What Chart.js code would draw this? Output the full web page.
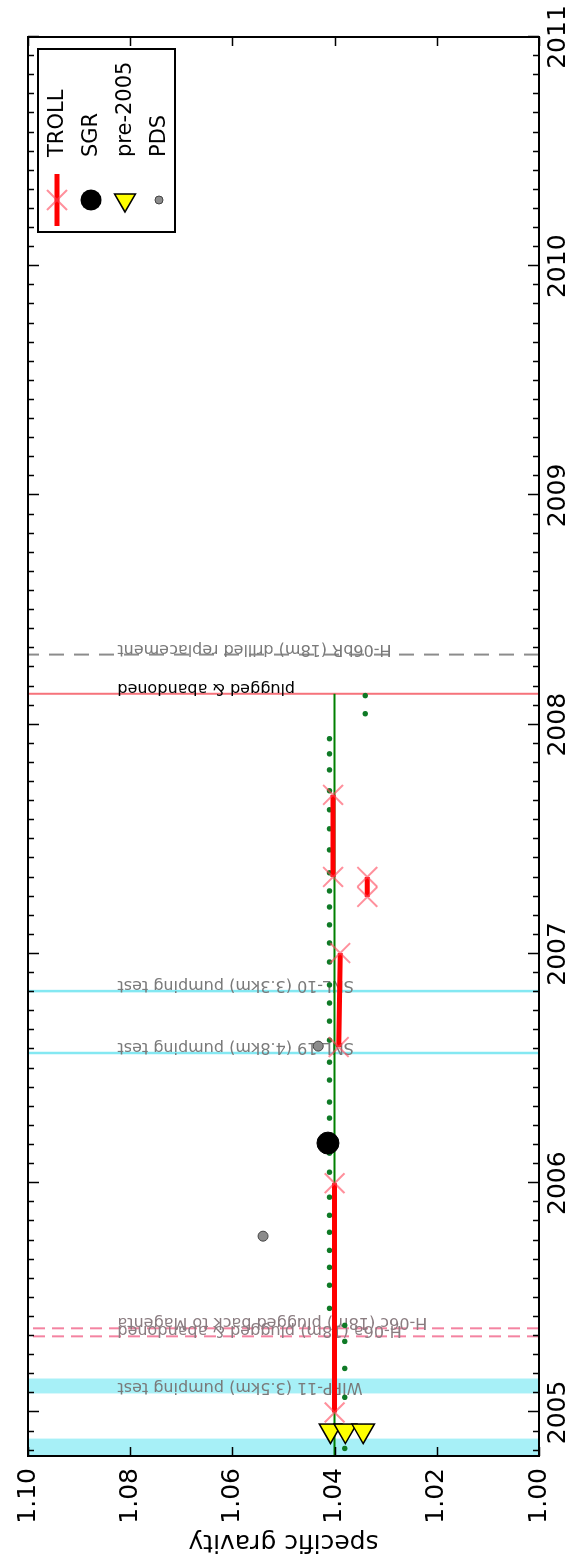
<!DOCTYPE html><html><head>
<title>specific gravity</title>
<style>
  html, body { margin: 0; padding: 0; background: #fff; overflow: hidden; }
  /* the plot is drawn lying on its side, like the source picture */
  #wrap { position: absolute; left: 0; top: 0; width: 1564px; height: 575px;
          transform-origin: 0 0; transform: translate(0, 1564px) rotate(-90deg); }
</style>
</head>
<body>
<div id="wrap"><canvas id="chart" width="1564" height="575"></canvas></div>
<script src="https://cdn.jsdelivr.net/npm/chart.js"></script>
<script>
Chart.defaults.font.family = "'DejaVu Sans', 'Bitstream Vera Sans', sans-serif";
Chart.defaults.color = '#000';

// decimal years and specific gravity
const trollYears = [2005.000, 2006.000, 2006.000, 2006.594, 2007.004, 2007.004, 2007.249, 2007.336, 2007.336, 2007.336, 2007.694];
const trollSG    = [1.0400,   1.0400,   null,     1.0392,   1.0389,   null,     1.0336,   1.0336,   null,     1.0403,   1.0403];
const sgrYears = [2006.175];
const sgrSG    = [1.0413];
const preYears = [2004.921, 2004.921, 2004.921];
const preSG    = [1.0408, 1.0379, 1.0344];
const pdsYears = [2005.769, 2006.598];
const pdsSG    = [1.0540, 1.0432];
const dotYears = [2004.843, 2005.066, 2005.192, 2005.310, 2005.380,
  2005.454, 2005.555, 2005.633, 2005.707, 2005.786, 2005.860, 2005.939, 2006.048, 2006.131, 2006.201,
  2006.284, 2006.354, 2006.450, 2006.528, 2006.624, 2006.707, 2006.786, 2006.865, 2006.965, 2007.048,
  2007.127, 2007.205, 2007.275, 2007.354, 2007.454, 2007.546, 2007.629, 2007.712, 2007.803, 2007.873,
  2007.939, 2008.048, 2008.127];
const dotSG = [1.038, 1.038, 1.038, 1.038, 1.038,
  1.041, 1.041, 1.041, 1.041, 1.041, 1.041, 1.041, 1.041, 1.041, 1.041,
  1.041, 1.041, 1.041, 1.041, 1.041, 1.041, 1.041, 1.041, 1.041, 1.041,
  1.041, 1.041, 1.041, 1.041, 1.041, 1.041, 1.041, 1.041, 1.041, 1.041,
  1.041, 1.034, 1.034];
const fitYears = [2004.75, 2008.135];
const fitSG    = [1.040, 1.040];

// events
const spanStarts = [2004.70, 2005.083];
const spanEnds   = [2004.886, 2005.148];
const spanLabels = ['', 'WIPP-11 (3.5km) pumping test'];
const testYears  = [2006.568, 2006.838];
const testLabels = ['SNL-19 (4.8km) pumping test', 'SNL-10 (3.3km) pumping test'];
const plugYears  = [2005.332, 2005.367];
const plugLabels = ['H-06a (18m) plugged & abandoned', 'H-06c (18m) plugged back to Magenta'];
const abandonYears  = [2008.135];
const abandonLabels = ['plugged & abandoned'];
const replaceYears  = [2008.306];
const replaceLabels = ['H-06bR (18m) drilled replacement'];
const labelTopSG = 1.0825;

const sgTicks = [1.00, 1.02, 1.04, 1.06, 1.08, 1.10];

function pts(xs, ys) { return xs.map((x, i) => ({x: x, y: ys[i]})); }

const xColor = 'rgba(255, 70, 90, 0.6)';

const events = {
  id: 'events',
  beforeDatasetsDraw(chart) {
    const {ctx, chartArea: a, scales: {x, y}} = chart;
    ctx.save();
    ctx.beginPath(); ctx.rect(a.left, a.top, a.right - a.left, a.bottom - a.top); ctx.clip();

    ctx.fillStyle = 'rgba(120, 232, 242, 0.65)';
    spanStarts.forEach((s, i) => {
      const x0 = x.getPixelForValue(s), x1 = x.getPixelForValue(spanEnds[i]);
      ctx.fillRect(x0, a.top, x1 - x0, a.bottom - a.top);
    });

    function vline(year, color, width, dash) {
      const px = x.getPixelForValue(year);
      ctx.save();
      ctx.strokeStyle = color; ctx.lineWidth = width; ctx.setLineDash(dash);
      ctx.beginPath(); ctx.moveTo(px, a.bottom); ctx.lineTo(px, a.top); ctx.stroke();
      ctx.restore();
    }
    function label(year, text, color) {
      if (!text) return;
      const px = x.getPixelForValue(year) + 10, py = y.getPixelForValue(labelTopSG);
      ctx.save();
      ctx.translate(px, py); ctx.rotate(-Math.PI / 2);
      ctx.textAlign = 'right'; ctx.textBaseline = 'alphabetic';
      ctx.font = "16px 'DejaVu Sans'"; ctx.fillStyle = color;
      ctx.fillText(text, 0, 0);
      ctx.restore();
    }
    testYears.forEach(t => vline(t, 'rgba(110, 228, 240, 0.85)', 2.5, []));
    plugYears.forEach(t => vline(t, 'rgba(240, 90, 130, 0.75)', 2, [12, 7]));
    abandonYears.forEach(t => vline(t, 'rgba(245, 90, 100, 0.85)', 2, []));
    replaceYears.forEach(t => vline(t, '#8c8c8c', 2, [15, 10]));

    spanStarts.forEach((s, i) => label(s, spanLabels[i], '#7a7a7a'));
    testYears.forEach((t, i) => label(t, testLabels[i], '#7a7a7a'));
    plugYears.forEach((t, i) => label(t, plugLabels[i], '#8a7c80'));
    abandonYears.forEach((t, i) => label(t, abandonLabels[i], '#000'));
    replaceYears.forEach((t, i) => label(t, replaceLabels[i], '#7a7a7a'));
    ctx.restore();
  },
  afterDatasetsDraw(chart) {
    const {ctx, chartArea: a, scales: {x, y}} = chart;
    ctx.save();
    ctx.strokeStyle = '#000';
    ctx.lineWidth = 1.5;
    ctx.beginPath();
    // monthly minor ticks and yearly major ticks, pointing inwards
    for (let m = Math.ceil(x.min * 12); m <= Math.floor(x.max * 12); m++) {
      const px = Math.round(x.getPixelForValue(m / 12)) + 0.5;
      const len = (m % 12 === 0) ? 11 : 6;
      ctx.moveTo(px, a.bottom); ctx.lineTo(px, a.bottom - len);
      ctx.moveTo(px, a.top); ctx.lineTo(px, a.top + len);
    }
    y.ticks.forEach(t => {
      const py = Math.round(y.getPixelForValue(t.value)) + 0.5;
      ctx.moveTo(a.left, py); ctx.lineTo(a.left + 9, py);
      ctx.moveTo(a.right, py); ctx.lineTo(a.right - 9, py);
    });
    ctx.stroke();
    ctx.lineWidth = 2;
    ctx.strokeRect(a.left, a.top, a.right - a.left, a.bottom - a.top);
    ctx.restore();
  },
  afterDraw(chart) {
    const {ctx, chartArea: a} = chart;
    const w = 183, h = 137;
    const left = a.right - 12 - w, top = a.top + 10;
    ctx.save();
    ctx.fillStyle = '#fff';
    ctx.fillRect(left, top, w, h);
    ctx.strokeStyle = '#000'; ctx.lineWidth = 2;
    ctx.strokeRect(left, top, w, h);
    const sx = left + 32;
    const rows = [top + 19, top + 53, top + 87, top + 121];
    // TROLL
    ctx.strokeStyle = '#ff0000'; ctx.lineWidth = 5;
    ctx.beginPath(); ctx.moveTo(sx - 26, rows[0]); ctx.lineTo(sx + 26, rows[0]); ctx.stroke();
    ctx.strokeStyle = xColor; ctx.lineWidth = 2;
    ctx.beginPath();
    ctx.moveTo(sx - 10, rows[0] - 10); ctx.lineTo(sx + 10, rows[0] + 10);
    ctx.moveTo(sx - 10, rows[0] + 10); ctx.lineTo(sx + 10, rows[0] - 10);
    ctx.stroke();
    // SGR
    ctx.fillStyle = '#000';
    ctx.beginPath(); ctx.arc(sx, rows[1], 10.5, 0, Math.PI * 2); ctx.fill();
    // pre-2005
    const r = 12;
    ctx.fillStyle = '#ffff00'; ctx.strokeStyle = '#000'; ctx.lineWidth = 1.5;
    ctx.beginPath();
    ctx.moveTo(sx - r, rows[2]);
    ctx.lineTo(sx + r / 2, rows[2] - r * 0.866);
    ctx.lineTo(sx + r / 2, rows[2] + r * 0.866);
    ctx.closePath(); ctx.fill(); ctx.stroke();
    // PDS
    ctx.fillStyle = '#8c8c8c'; ctx.strokeStyle = '#444'; ctx.lineWidth = 1;
    ctx.beginPath(); ctx.arc(sx, rows[3], 4, 0, Math.PI * 2); ctx.fill(); ctx.stroke();

    ctx.fillStyle = '#000';
    ctx.font = "21px 'DejaVu Sans'";
    ctx.textAlign = 'left'; ctx.textBaseline = 'middle';
    ['TROLL', 'SGR', 'pre-2005', 'PDS'].forEach((t, i) => ctx.fillText(t, left + 75, rows[i] + 1));
    ctx.restore();
  }
};

new Chart(document.getElementById('chart'), {
  type: 'scatter',
  data: {
    datasets: [
      { label: 'fit', data: pts(fitYears, fitSG), showLine: true, borderColor: '#008000', borderWidth: 2,
        pointRadius: 0, order: 6 },
      { label: 'daily', data: pts(dotYears, dotSG), pointRadius: 2.7, pointBackgroundColor: '#0f7a26',
        pointBorderWidth: 0, order: 5 },
      { label: 'TROLL', data: pts(trollYears, trollSG), showLine: true, spanGaps: false,
        borderColor: '#ff0000', borderWidth: 5, pointStyle: 'crossRot', pointRadius: 14,
        pointBorderColor: xColor, pointBorderWidth: 2, order: 4 },
      { label: 'SGR', data: pts(sgrYears, sgrSG), pointRadius: 11, pointBackgroundColor: '#000',
        pointBorderColor: '#000', order: 3 },
      { label: 'pre-2005', data: pts(preYears, preSG), pointStyle: 'triangle', rotation: 270,
        pointRadius: 13, pointBackgroundColor: '#ffff00', pointBorderColor: '#000', pointBorderWidth: 1.5, order: 2 },
      { label: 'PDS', data: pts(pdsYears, pdsSG), pointRadius: 5, pointBackgroundColor: '#8c8c8c',
        pointBorderColor: '#444', pointBorderWidth: 1, order: 1 }
    ]
  },
  options: {
    responsive: false,
    animation: false,
    devicePixelRatio: 1,
    layout: { padding: { left: 0, top: 28, right: 37, bottom: 0 } },
    plugins: { legend: { display: false }, tooltip: { enabled: false } },
    scales: {
      x: {
        type: 'linear', min: 2004.81, max: 2011,
        grid: { display: false, drawTicks: false }, border: { display: false },
        ticks: { stepSize: 1, includeBounds: false, padding: 4, maxRotation: 0, minRotation: 0,
                 font: { size: 25 }, color: '#000', callback: v => String(v) },
        afterFit: s => { s.height = 36; }
      },
      y: {
        type: 'linear', min: 1.00, max: 1.10,
        grid: { display: false, drawTicks: false }, border: { display: false },
        afterBuildTicks: s => { s.ticks = sgTicks.map(v => ({value: v})); },
        ticks: { padding: 12, font: { size: 25 }, color: '#000', callback: v => Number(v).toFixed(2) },
        title: { display: true, text: 'specific gravity', font: { size: 25 }, color: '#000',
                 padding: { top: 7, bottom: 0 } },
        afterFit: s => { s.width = 108; }
      }
    }
  },
  plugins: [events]
});
</script>
</body></html>
